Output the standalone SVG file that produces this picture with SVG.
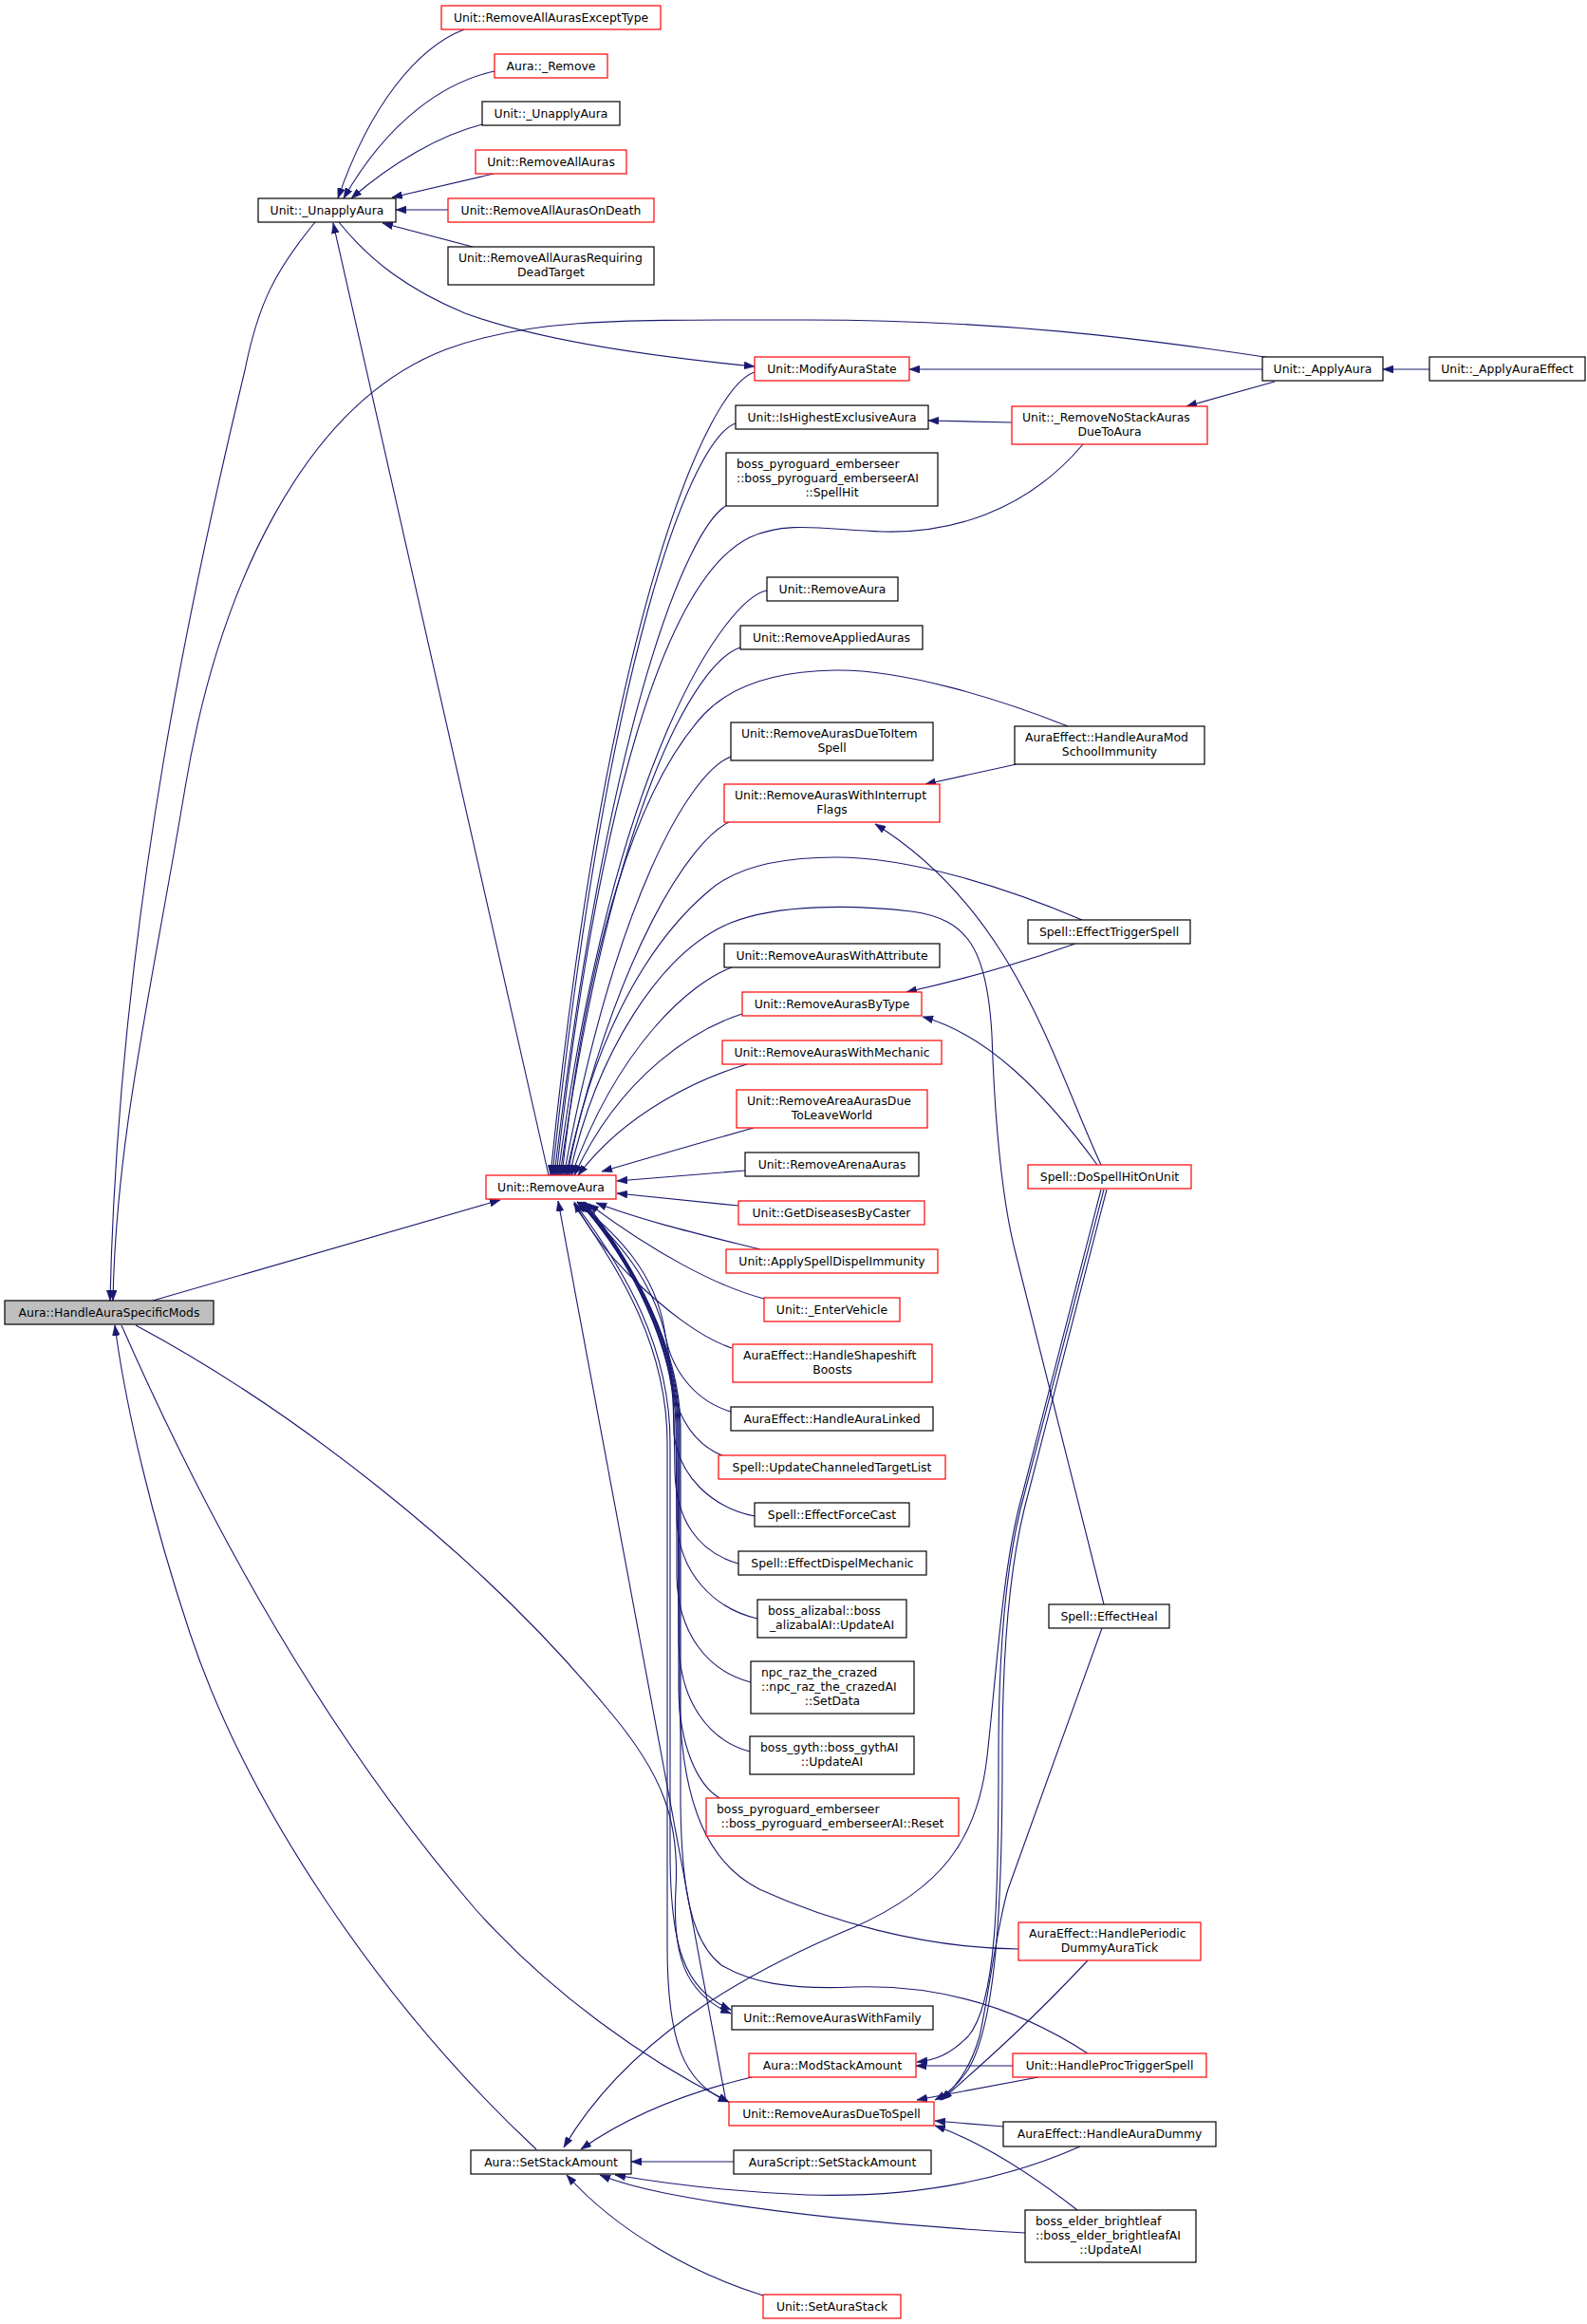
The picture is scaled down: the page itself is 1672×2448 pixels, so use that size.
<svg xmlns="http://www.w3.org/2000/svg" width="1672" height="2448" viewBox="0 0 1672 2448">
<style>
rect{stroke-width:1.2}
.nb rect{fill:#fff;stroke:#000}
.nr rect{fill:#fff;stroke:#ff0000}
.root rect{fill:#bfbfbf;stroke:#000}
text{font-family:"DejaVu Sans","Liberation Sans",sans-serif;font-size:12.4px;fill:#000}
.m{text-anchor:middle}
#edges path{fill:none;stroke:#191970;stroke-width:1.1;marker-end:url(#ah)}
</style>
<defs>
<marker id="ah" viewBox="0 0 11 8" refX="11" refY="4" markerWidth="11" markerHeight="8" markerUnits="userSpaceOnUse" orient="auto">
<path d="M0,0 L11,4 L0,8 z" fill="#191970" stroke="#191970" stroke-width="0.5"/>
</marker>
</defs>
<rect x="0" y="0" width="1672" height="2448" fill="#fff"/>
<g id="edges">
<path d="M489,31 C440,50 390,110 356,209"/>
<path d="M521,75 C470,86 410,125 362,209"/>
<path d="M508,131 C465,142 415,170 370,209"/>
<path d="M520,183 L413,208"/>
<path d="M472,221 L417,221"/>
<path d="M498,260 L403,235"/>
<path d="M332,234 C290,285 272,320 258,390 C210,590 125,960 116,1370"/>
<path d="M1339,377 C1200,356 1050,337 850,337 C650,337 560,335 470,368 C320,425 230,620 195,830 C160,1040 122,1200 119,1370"/>
<path d="M357,234 C390,275 430,305 490,330 C550,352 650,372 795,386"/>
<path d="M578,1238 L351,235"/>
<path d="M161,1370 L527,1264"/>
<path d="M795,392 C745,408 640,645 580,1238"/>
<path d="M775,446 C728,462 640,690 582,1238"/>
<path d="M766,532 C725,555 642,750 584,1238"/>
<path d="M1141,468 C1080,540 1000,562 930,560 C870,558 830,548 790,566 C700,610 630,850 586,1238"/>
<path d="M808,622 C765,630 645,800 588,1238"/>
<path d="M780,682 C732,698 645,850 590,1238"/>
<path d="M1125,765 C1050,735 950,705 880,706 C805,707 765,728 742,752 C670,830 618,1000 592,1238"/>
<path d="M770,797 C725,815 648,950 594,1238"/>
<path d="M768,866 C728,885 650,1000 596,1238"/>
<path d="M1140,969 C1060,935 960,903 880,903 C820,903 772,915 745,940 C675,1000 620,1110 598,1238"/>
<path d="M1163,1690 L1070,1320 C1052,1250 1047,1150 1045,1090 C1040,1000 1020,968 960,960 C900,953 820,952 770,972 C695,1003 628,1110 600,1238"/>
<path d="M771,1019 C728,1035 652,1100 602,1238"/>
<path d="M782,1068 C735,1083 655,1130 605,1238"/>
<path d="M787,1121 C740,1135 660,1170 609,1238"/>
<path d="M794,1188 C740,1203 690,1218 634,1234"/>
<path d="M785,1233 L650,1244"/>
<path d="M778,1270 L650,1257"/>
<path d="M801,1316 C745,1302 680,1287 628,1267"/>
<path d="M805,1368 C755,1355 690,1320 620,1268"/>
<path d="M771,1420 C740,1410 700,1380 663,1343 C640,1320 620,1295 605,1266"/>
<path d="M770,1487 C730,1475 705,1440 700,1400 C690,1340 650,1300 608,1266"/>
<path d="M763,1534 C725,1520 708,1480 706,1440 C700,1360 655,1310 608,1266"/>
<path d="M795,1597 C750,1588 715,1555 710,1510 L709,1470 C707,1400 660,1320 610,1266"/>
<path d="M778,1647 C735,1635 712,1600 711,1550 L710,1490 C708,1410 662,1325 610,1266"/>
<path d="M798,1705 C755,1695 715,1660 713,1600 L712,1500 C710,1420 665,1328 612,1266"/>
<path d="M791,1772 C745,1760 714,1720 713,1660 L713,1500 C711,1420 666,1330 612,1266"/>
<path d="M790,1845 C745,1833 716,1790 715,1730 L714,1500 C712,1420 667,1330 614,1266"/>
<path d="M758,1894 C735,1880 716,1840 715,1780 L715,1500 C713,1420 668,1332 614,1266"/>
<path d="M1073,2053 C970,2052 870,2022 800,1990 C745,1962 720,1900 716,1800 L716,1500 C714,1420 668,1332 616,1266"/>
<path d="M1146,2163 C1080,2120 1000,2090 900,2093 C830,2096 790,2088 760,2070 C728,2045 718,1990 717,1900 L717,1500 C715,1420 669,1332 616,1266"/>
<path d="M606,1268 C660,1340 706,1420 706,1520 L706,1950 C706,2050 720,2095 770,2117"/>
<path d="M604,1268 C655,1340 703,1420 703,1520 L703,2050 C703,2150 720,2195 768,2214"/>
<path d="M765,2214 L588,1265"/>
<path d="M565,2264 C400,2110 260,1900 200,1720 C160,1600 132,1480 121,1396"/>
<path d="M128,1396 C200,1560 320,1800 500,2010 C580,2100 680,2170 768,2214"/>
<path d="M143,1396 C300,1480 500,1630 640,1800 C700,1870 716,1920 712,1990 C708,2060 722,2100 770,2121"/>
<path d="M1160,1227 C1110,1120 1070,960 922,868"/>
<path d="M1156,1227 C1100,1150 1040,1090 972,1071"/>
<path d="M1163,1253 L1075,1590 C1058,1660 1052,1750 1052,1850 C1052,2000 1050,2110 1020,2145 C1000,2165 985,2170 966,2172"/>
<path d="M1166,1253 L1079,1590 C1062,1660 1056,1750 1056,1850 C1056,2000 1050,2130 1020,2180 C1008,2198 998,2205 985,2212"/>
<path d="M1160,1253 L1073,1590 C1056,1660 1050,1760 1040,1850 C1030,1940 990,1990 900,2030 C780,2080 660,2150 594,2262"/>
<path d="M1161,1715 L1062,1990 C1050,2030 1042,2100 1032,2145 C1022,2180 1006,2200 990,2212"/>
<path d="M1146,2065 C1090,2125 1040,2170 992,2212"/>
<path d="M1067,2176 L965,2176"/>
<path d="M1094,2188 L966,2212"/>
<path d="M1057,2240 L985,2234"/>
<path d="M1138,2261 C1050,2300 950,2315 850,2312 C760,2308 700,2300 648,2291"/>
<path d="M1135,2328 C1080,2285 1030,2255 985,2239"/>
<path d="M1080,2352 C950,2345 800,2330 700,2310 C670,2304 650,2298 632,2291"/>
<path d="M773,2277 L665,2277"/>
<path d="M804,2418 C730,2395 650,2350 597,2291"/>
<path d="M792,2188 C720,2205 660,2230 612,2264"/>
<path d="M1133,994 C1060,1020 1000,1035 955,1045"/>
<path d="M1071,805 L975,826"/>
<path d="M1066,445 L978,443"/>
<path d="M1343,402 L1250,428"/>
<path d="M1330,389 L958,389"/>
<path d="M1506,389 L1457,389"/>
</g>
<g id="n_hasm" class="root"><rect x="5" y="1370" width="220" height="25"/><text class="m" x="115" y="1387">Aura::HandleAuraSpecificMods</text></g>
<g id="n_unapply" class="nb"><rect x="272" y="209" width="145" height="25"/><text class="m" x="344.5" y="226">Unit::_UnapplyAura</text></g>
<g id="n_raaet" class="nr"><rect x="465" y="6" width="231" height="25"/><text class="m" x="580.5" y="23">Unit::RemoveAllAurasExceptType</text></g>
<g id="n_remove" class="nr"><rect x="521" y="57" width="119" height="25"/><text class="m" x="580.5" y="74">Aura::_Remove</text></g>
<g id="n_unapply2" class="nb"><rect x="508" y="107" width="145" height="25"/><text class="m" x="580.5" y="124">Unit::_UnapplyAura</text></g>
<g id="n_raa" class="nr"><rect x="501" y="158" width="159" height="25"/><text class="m" x="580.5" y="175">Unit::RemoveAllAuras</text></g>
<g id="n_raaod" class="nr"><rect x="472" y="209" width="217" height="25"/><text class="m" x="580.5" y="226">Unit::RemoveAllAurasOnDeath</text></g>
<g id="n_raardt" class="nb"><rect x="472" y="260" width="217" height="40"/><text x="483" y="276">Unit::RemoveAllAurasRequiring</text><text class="m" x="580.5" y="291">DeadTarget</text></g>
<g id="n_mas" class="nr"><rect x="795" y="376" width="163" height="25"/><text class="m" x="876.5" y="393">Unit::ModifyAuraState</text></g>
<g id="n_apply" class="nb"><rect x="1330" y="376" width="127" height="25"/><text class="m" x="1393.5" y="393">Unit::_ApplyAura</text></g>
<g id="n_applyeff" class="nb"><rect x="1506" y="376" width="164" height="25"/><text class="m" x="1588" y="393">Unit::_ApplyAuraEffect</text></g>
<g id="n_ihea" class="nb"><rect x="775" y="427" width="203" height="25"/><text class="m" x="876.5" y="444">Unit::IsHighestExclusiveAura</text></g>
<g id="n_rnsa" class="nr"><rect x="1066" y="428" width="206" height="40"/><text x="1077" y="444">Unit::_RemoveNoStackAuras</text><text class="m" x="1169" y="459">DueToAura</text></g>
<g id="n_pyro_sh" class="nb"><rect x="765" y="477" width="223" height="56"/><text x="776" y="493">boss_pyroguard_emberseer</text><text x="776" y="508">::boss_pyroguard_emberseerAI</text><text class="m" x="876.5" y="523">::SpellHit</text></g>
<g id="n_ra_small" class="nb"><rect x="808" y="608" width="138" height="25"/><text class="m" x="877" y="625">Unit::RemoveAura</text></g>
<g id="n_rapa" class="nb"><rect x="780" y="659" width="192" height="25"/><text class="m" x="876" y="676">Unit::RemoveAppliedAuras</text></g>
<g id="n_radti" class="nb"><rect x="770" y="761" width="213" height="40"/><text x="781" y="777">Unit::RemoveAurasDueToItem</text><text class="m" x="876.5" y="792">Spell</text></g>
<g id="n_hamsi" class="nb"><rect x="1069" y="765" width="200" height="40"/><text x="1080" y="781">AuraEffect::HandleAuraMod</text><text class="m" x="1169" y="796">SchoolImmunity</text></g>
<g id="n_rawif" class="nr"><rect x="763" y="826" width="227" height="40"/><text x="774" y="842">Unit::RemoveAurasWithInterrupt</text><text class="m" x="876.5" y="857">Flags</text></g>
<g id="n_ets" class="nb"><rect x="1083" y="969" width="171" height="25"/><text class="m" x="1168.5" y="986">Spell::EffectTriggerSpell</text></g>
<g id="n_rawa" class="nb"><rect x="763" y="994" width="227" height="25"/><text class="m" x="876.5" y="1011">Unit::RemoveAurasWithAttribute</text></g>
<g id="n_rabt" class="nr"><rect x="782" y="1045" width="189" height="25"/><text class="m" x="876.5" y="1062">Unit::RemoveAurasByType</text></g>
<g id="n_rawm" class="nr"><rect x="761" y="1096" width="231" height="25"/><text class="m" x="876.5" y="1113">Unit::RemoveAurasWithMechanic</text></g>
<g id="n_raadtlw" class="nr"><rect x="776" y="1148" width="201" height="40"/><text x="787" y="1164">Unit::RemoveAreaAurasDue</text><text class="m" x="876.5" y="1179">ToLeaveWorld</text></g>
<g id="n_rara" class="nb"><rect x="785" y="1214" width="183" height="25"/><text class="m" x="876.5" y="1231">Unit::RemoveArenaAuras</text></g>
<g id="n_dshou" class="nr"><rect x="1083" y="1227" width="172" height="25"/><text class="m" x="1169" y="1244">Spell::DoSpellHitOnUnit</text></g>
<g id="n_gdbc" class="nr"><rect x="778" y="1265" width="196" height="25"/><text class="m" x="876" y="1282">Unit::GetDiseasesByCaster</text></g>
<g id="n_asdi" class="nr"><rect x="765" y="1316" width="223" height="25"/><text class="m" x="876.5" y="1333">Unit::ApplySpellDispelImmunity</text></g>
<g id="n_ev" class="nr"><rect x="805" y="1367" width="143" height="25"/><text class="m" x="876.5" y="1384">Unit::_EnterVehicle</text></g>
<g id="n_hssb" class="nr"><rect x="772" y="1416" width="210" height="40"/><text x="783" y="1432">AuraEffect::HandleShapeshift</text><text class="m" x="877" y="1447">Boosts</text></g>
<g id="n_hal" class="nb"><rect x="770" y="1482" width="213" height="25"/><text class="m" x="876.5" y="1499">AuraEffect::HandleAuraLinked</text></g>
<g id="n_uctl" class="nr"><rect x="757" y="1533" width="239" height="25"/><text class="m" x="876.5" y="1550">Spell::UpdateChanneledTargetList</text></g>
<g id="n_efc" class="nb"><rect x="795" y="1583" width="163" height="25"/><text class="m" x="876.5" y="1600">Spell::EffectForceCast</text></g>
<g id="n_edm" class="nb"><rect x="778" y="1634" width="198" height="25"/><text class="m" x="877" y="1651">Spell::EffectDispelMechanic</text></g>
<g id="n_aliz" class="nb"><rect x="798" y="1685" width="157" height="40"/><text x="809" y="1701">boss_alizabal::boss</text><text class="m" x="876.5" y="1716">_alizabalAI::UpdateAI</text></g>
<g id="n_raz" class="nb"><rect x="791" y="1750" width="172" height="55"/><text x="802" y="1766">npc_raz_the_crazed</text><text x="802" y="1781">::npc_raz_the_crazedAI</text><text class="m" x="877" y="1796">::SetData</text></g>
<g id="n_gyth" class="nb"><rect x="790" y="1829" width="173" height="40"/><text x="801" y="1845">boss_gyth::boss_gythAI</text><text class="m" x="876.5" y="1860">::UpdateAI</text></g>
<g id="n_pyro_r" class="nr"><rect x="744" y="1894" width="266" height="40"/><text x="755" y="1910">boss_pyroguard_emberseer</text><text class="m" x="877" y="1925">::boss_pyroguard_emberseerAI::Reset</text></g>
<g id="n_eh" class="nb"><rect x="1105" y="1690" width="127" height="25"/><text class="m" x="1168.5" y="1707">Spell::EffectHeal</text></g>
<g id="n_hpdat" class="nr"><rect x="1073" y="2025" width="192" height="40"/><text x="1084" y="2041">AuraEffect::HandlePeriodic</text><text class="m" x="1169" y="2056">DummyAuraTick</text></g>
<g id="n_rawfam" class="nb"><rect x="771" y="2113" width="212" height="25"/><text class="m" x="877" y="2130">Unit::RemoveAurasWithFamily</text></g>
<g id="n_msa" class="nr"><rect x="789" y="2163" width="176" height="25"/><text class="m" x="877" y="2180">Aura::ModStackAmount</text></g>
<g id="n_hpts" class="nr"><rect x="1067" y="2163" width="204" height="25"/><text class="m" x="1169" y="2180">Unit::HandleProcTriggerSpell</text></g>
<g id="n_radts" class="nr"><rect x="768" y="2214" width="216" height="25"/><text class="m" x="876" y="2231">Unit::RemoveAurasDueToSpell</text></g>
<g id="n_had" class="nb"><rect x="1057" y="2235" width="224" height="26"/><text class="m" x="1169" y="2252">AuraEffect::HandleAuraDummy</text></g>
<g id="n_asssa" class="nb"><rect x="773" y="2265" width="208" height="25"/><text class="m" x="877" y="2282">AuraScript::SetStackAmount</text></g>
<g id="n_ebl" class="nb"><rect x="1080" y="2328" width="180" height="55"/><text x="1091" y="2344">boss_elder_brightleaf</text><text x="1091" y="2359">::boss_elder_brightleafAI</text><text class="m" x="1170" y="2374">::UpdateAI</text></g>
<g id="n_sas" class="nr"><rect x="804" y="2417" width="145" height="25"/><text class="m" x="876.5" y="2434">Unit::SetAuraStack</text></g>
<g id="n_ssa" class="nb"><rect x="496" y="2265" width="169" height="25"/><text class="m" x="580.5" y="2282">Aura::SetStackAmount</text></g>
<g id="n_ra" class="nr"><rect x="512" y="1238" width="137" height="25"/><text class="m" x="580.5" y="1255">Unit::RemoveAura</text></g>
</svg>
